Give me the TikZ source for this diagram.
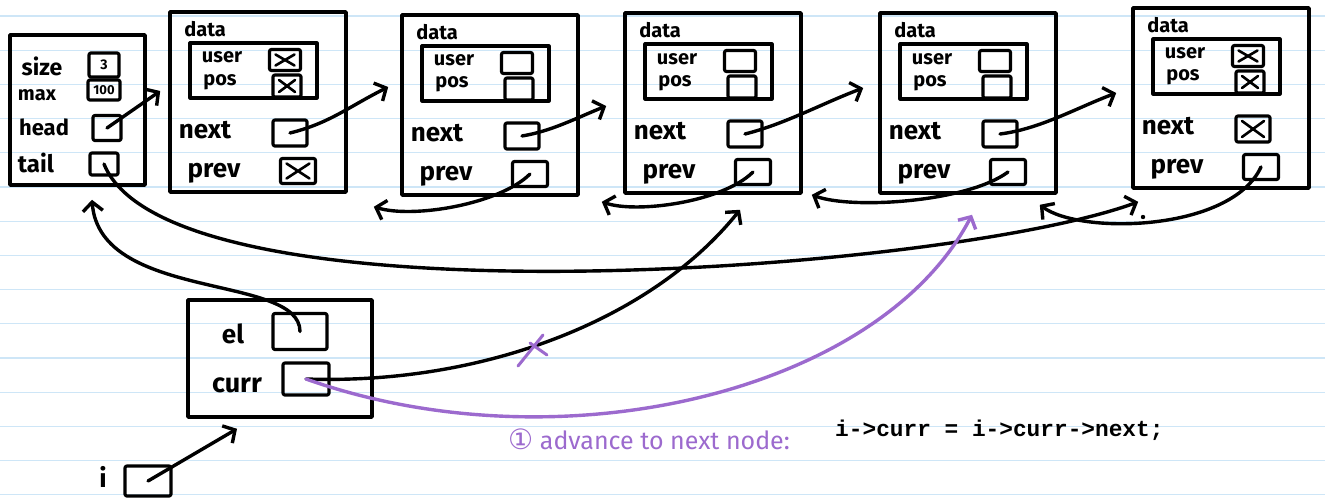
\documentclass[tikz,border=0pt]{standalone}
\usepackage{fontspec}
\setmainfont{Fira Sans}
\newfontfamily\codefont{Liberation Mono}
\newfontfamily\symfont{DejaVu Sans}
\usetikzlibrary{arrows.meta}

\definecolor{rulecol}{RGB}{206,230,247}
\definecolor{penpurple}{RGB}{156,106,206}

\tikzset{
  structbox/.style={draw,line width=3.6pt,inner sep=0pt,minimum width=176pt,minimum height=180pt},
  innerbox/.style={draw,line width=3.2pt,inner sep=0pt,minimum width=127pt,minimum height=55pt},
  ptrbox/.style={draw,line width=3.2pt,inner sep=0pt,rounded corners=2pt},
  crossed/.style={path picture={\draw[line width=2.6pt]
      ([shift={(6pt,-5pt)}]path picture bounding box.north west) -- ([shift={(-6pt,5pt)}]path picture bounding box.south east)
      ([shift={(-6pt,-5pt)}]path picture bounding box.north east) -- ([shift={(6pt,5pt)}]path picture bounding box.south west);}},
  plain/.style={},
  lbl/.style={inner sep=0pt,anchor=base,font=\bfseries\fontsize{26}{28}\selectfont},
  small/.style={inner sep=0pt,anchor=base,font=\bfseries\fontsize{20}{22}\selectfont},
  ptr/.style={line width=3.4pt,->},
  newptr/.style={line width=3.4pt,->,draw=penpurple},
}

\begin{document}
\begin{tikzpicture}[line cap=round,line join=round,>={Straight Barb[length=9pt,width=20pt]},x=1pt,y=-1pt]
\fill[white] (0,0) rectangle (1325,503);
\useasboundingbox (0,0) rectangle (1325,503);
\foreach \k in {0,...,14}
  \draw[rulecol,line width=1.2pt] (0,{16+34.2*\k}) -- (1325,{16+34.2*\k});

% list struct
\node[structbox,minimum width=135pt,minimum height=150pt] (list) at (77.5,110) {};
\node[lbl,font=\bfseries\fontsize{23}{25}\selectfont] (size) at (42,75) {size};
\node[lbl,font=\bfseries\fontsize{20}{22}\selectfont] (max) at (37,100) {max};
\node[lbl,font=\bfseries\fontsize{22}{24}\selectfont] (head) at (44,135) {head};
\node[lbl,font=\bfseries\fontsize{24}{26}\selectfont] (tail) at (36,172) {tail};
\node[ptrbox,minimum width=30pt,minimum height=24pt,font=\bfseries\fontsize{14}{14}\selectfont] (size-box) at (104,65) {3};
\node[ptrbox,minimum width=32pt,minimum height=20pt,font=\bfseries\fontsize{13}{13}\selectfont] (max-box) at (104,90) {100};
\node[ptrbox,minimum width=28pt,minimum height=25pt] (head-box) at (107,128) {};
\node[ptrbox,minimum width=28pt,minimum height=22pt] (tail-box) at (104,164) {};

% list nodes
\foreach \i/\L/\T/\us/\ps/\nx/\pv in {1/170/12/crossed/crossed/plain/crossed,
    2/402/15/plain/plain/plain/plain, 3/625/13/plain/plain/plain/plain,
    4/880/13/plain/plain/plain/plain, 5/1133/8/crossed/crossed/crossed/plain}{
  \node[structbox] (n\i) at ({\L+88},{\T+90}) {};
  \node[small] (n\i-datalbl) at ({\L+35},{\T+25}) {data};
  \node[innerbox] (n\i-data) at ({\L+83.5},{\T+58.5}) {};
  \node[small] (n\i-userlbl) at ({\L+52},{\T+51}) {user};
  \node[small] (n\i-poslbl) at ({\L+50},{\T+73}) {pos};
  \node[ptrbox,\us,minimum width=31pt,minimum height=21pt] (n\i-user) at ({\L+115},{\T+48}) {};
  \node[ptrbox,\ps,minimum width=28pt,minimum height=22pt] (n\i-pos) at ({\L+117},{\T+74}) {};
  \node[lbl] (n\i-nextlbl) at ({\L+35},{\T+126}) {next};
  \node[ptrbox,\nx,minimum width=34pt,minimum height=26pt] (n\i-next) at ({\L+120},{\T+121}) {};
  \node[lbl] (n\i-prevlbl) at ({\L+44},{\T+165}) {prev};
  \node[ptrbox,\pv,minimum width=35pt,minimum height=25pt] (n\i-prev) at ({\L+128},{\T+159}) {};
}

% iterator
\node[structbox,minimum width=184pt,minimum height=117pt] (iter) at (280,358.5) {};
\node[lbl] (el) at (233,343) {el};
\node[ptrbox,minimum width=54pt,minimum height=36pt] (el-box) at (300,331.5) {};
\node[lbl,font=\bfseries\fontsize{27}{29}\selectfont] (curr) at (237,392) {curr};
\node[ptrbox,minimum width=46pt,minimum height=32pt] (curr-box) at (306,379) {};
\node[lbl] (ilbl) at (103,487) {i};
\node[ptrbox,minimum width=46pt,minimum height=30pt] (i-box) at (148,481) {};

% next pointers
\draw[ptr] (head-box.center) -- ([shift={(-8,-11)}]n1.west);
\draw[ptr] (n1-next.center) .. controls +(40,-10) and +(-40,20) .. ([shift={(-12,-18)}]n2.west);
\draw[ptr] (n2-next.center) .. controls +(30,-5) and +(-30,12) .. ([shift={(-17,3)}]n3.west);
\draw[ptr] (n3-next.center) .. controls +(40,-10) and +(-40,15) .. ([shift={(-15,-15)}]n4.west);
\draw[ptr] (n4-next.center) .. controls +(40,-5) and +(-40,15) .. ([shift={(-15,-5)}]n5.west);

% prev pointers
\draw[ptr] (n2-prev.center) .. controls +(-30,30) and +(40,12) .. ([shift={(26,13)}]n1.south east);
\draw[ptr] (n3-prev.center) .. controls +(-30,30) and +(35,12) .. ([shift={(22,5)}]n2.south east);
\draw[ptr] (n4-prev.center) .. controls +(-40,30) and +(40,15) .. ([shift={(9,0)}]n3.south east);
\draw[ptr] (n5-prev.center) .. controls +(-30,65) and +(40,30) .. ([shift={(-18,10)}]n4.south east);

% tail and iterator pointers
\draw[ptr] (tail-box.center) .. controls +(66,165) and +(-190,70) .. ([shift={(7,12)}]n5.south west);
\fill (1143,217) circle (2.2);
\draw[ptr] (el-box.center) .. controls +(0,-58) and +(8,102) .. ([shift={(14.5,13)}]list.south);
\draw[ptr] (curr-box.center) .. controls +(174,6) and +(-90,112) .. ([shift={(27,15)}]n3.south);
\draw[ptr] (i-box.center) -- ([shift={(-43,10)}]iter.south);

% advance step
\draw[newptr] (curr-box.center) .. controls +(254,90) and +(-92,177) .. ([shift={(4,20)}]n4.south);
\draw[penpurple,line width=3pt] (518,366) -- (543,335) (530,343) -- (547,355);
\node[anchor=base west,inner sep=0pt,text=penpurple,font=\fontsize{25}{27}\selectfont] (note) at (508,449)
  {{\symfont\fontsize{28}{30}\selectfont ①} advance to next node:};
\node[anchor=base west,inner sep=0pt,font=\codefont\bfseries\fontsize{22.8}{24}\selectfont] (code) at (835,436)
  {i->curr = i->curr->next;};
\end{tikzpicture}
\end{document}
